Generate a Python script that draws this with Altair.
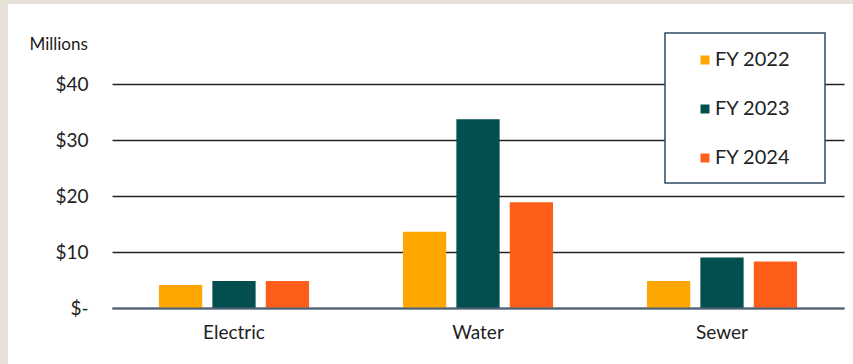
import altair as alt
import pandas as pd

categories = ["Electric", "Water", "Sewer"]
years = ["FY 2022", "FY 2023", "FY 2024"]
fy2022 = [4.1, 13.6, 4.8]
fy2023 = [4.8, 33.7, 9.0]
fy2024 = [4.8, 18.9, 8.3]
colors = ["#FFA600", "#034F4F", "#FF5E1A"]
y_ticks = [0, 10, 20, 30, 40]

rows = []
for i, c in enumerate(categories):
    for y, vals in zip(years, [fy2022, fy2023, fy2024]):
        rows.append({"cat": c, "year": y, "value": vals[i]})
df = pd.DataFrame(rows)

W, H = 732, 224
FONT = "Lato"

bars = alt.Chart(df).mark_bar().encode(
    x=alt.X("cat:N", sort=categories, title=None,
            scale=alt.Scale(paddingInner=0.385, paddingOuter=0.1925),
            axis=alt.Axis(labelAngle=0, labelFontSize=19, labelFont=FONT,
                          labelColor="#222", labelPadding=15, ticks=False,
                          domainColor="#4a6178", domainWidth=2, zindex=1)),
    xOffset=alt.XOffset("year:N", sort=years,
                        scale=alt.Scale(paddingInner=0.19, paddingOuter=0)),
    y=alt.Y("value:Q", title="Millions",
            scale=alt.Scale(domain=[0, 40], nice=False),
            axis=alt.Axis(values=y_ticks,
                          labelExpr="datum.value == 0 ? '$-' : '$' + datum.value",
                          labelFontSize=19, labelFont=FONT, labelColor="#222",
                          labelPadding=24, ticks=False, domain=False,
                          grid=True, gridColor="#222", gridWidth=1.5,
                          titleAngle=0, titleX=-83, titleY=-40, titleAlign="left",
                          titleBaseline="middle", titleFontSize=17,
                          titleFontWeight="normal", titleFont=FONT,
                          titleColor="#222")),
    color=alt.Color("year:N", sort=years,
                    scale=alt.Scale(domain=years, range=colors),
                    legend=alt.Legend(title=None, orient="none", legendX=583,
                                      legendY=-34, symbolType="square",
                                      symbolSize=81, symbolStrokeWidth=0,
                                      labelFontSize=20, labelFont=FONT,
                                      labelColor="#222", labelOffset=0,
                                      rowPadding=29, padding=0)),
)

one = pd.DataFrame({"a": [0]})
legend_box = alt.Chart(one).mark_rect(fill="white", stroke="#2e4a62",
                                      strokeWidth=1.5).encode(
    x=alt.value(553), x2=alt.value(713), y=alt.value(-51), y2=alt.value(99))
beige_left = alt.Chart(one).mark_rect(fill="#e6e2d8").encode(
    x=alt.value(-112), x2=alt.value(-104), y=alt.value(-84), y2=alt.value(280))
beige_top = alt.Chart(one).mark_rect(fill="#e6e2d8").encode(
    x=alt.value(-112), x2=alt.value(741), y=alt.value(-84), y2=alt.value(-80))

chart = alt.layer(bars, legend_box, beige_left, beige_top).properties(
    width=W, height=H,
    padding={"left": 112, "top": 84, "right": 9, "bottom": 56},
    autosize="none",
    background="white",
).configure_view(stroke=None)

chart.save("out.html", embed_options={"renderer": "svg", "actions": False})
